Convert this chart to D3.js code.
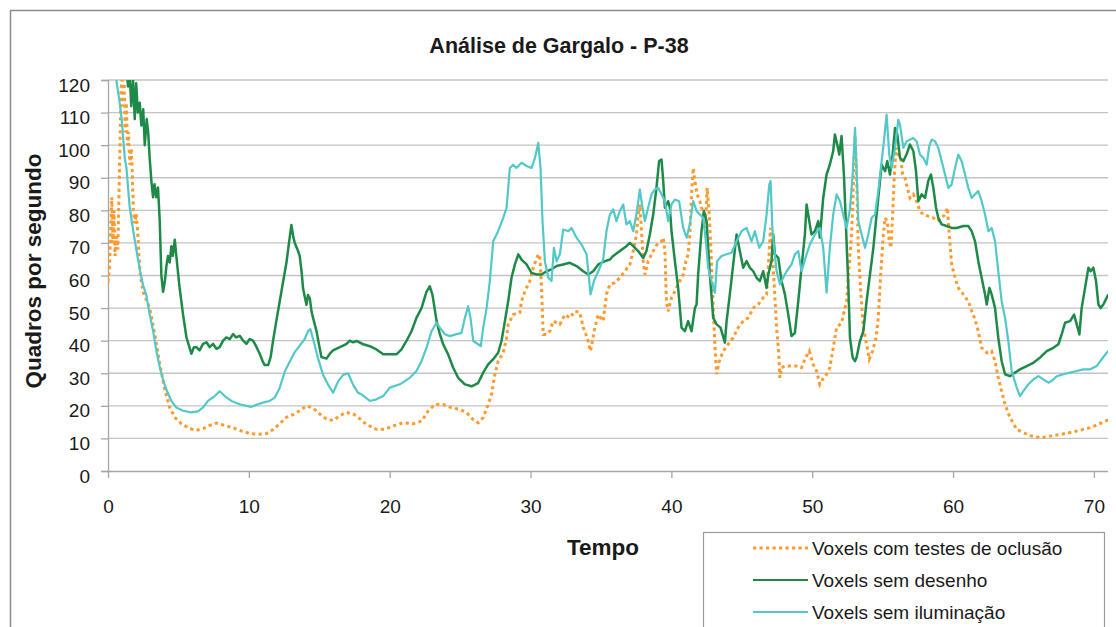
<!DOCTYPE html>
<html><head><meta charset="utf-8">
<script src="https://cdn.jsdelivr.net/npm/d3@7"></script>
<style>
body{margin:0;background:#fff;}
text{font-family:"Liberation Sans",Arial,sans-serif;fill:#1a1a1a;}
</style></head>
<body><svg id="c" width="1116" height="627"></svg>
<script>
const title = "Análise de Gargalo - P-38";
const xLabel = "Tempo";
const yLabel = "Quadros por segundo";
const xTicks = [0,10,20,30,40,50,60,70];
const yTicks = [0,10,20,30,40,50,60,70,80,90,100,110,120];
const seriesNames = ["Voxels com testes de oclusão","Voxels sem desenho","Voxels sem iluminação"];

// [tempo, quadros por segundo]
const occlusion = [[0.0,58],[0.1,62],[0.2,75],[0.27,84],[0.35,70],[0.42,80],[0.5,66],[0.6,72],[0.7,68],[0.78,85],[0.85,100],[0.92,116],[1.0,122],[1.08,112],[1.15,119],[1.22,104],[1.3,113],[1.38,100],[1.45,104],[1.55,94],[1.65,99],[1.72,92],[1.8,80],[1.9,76],[2.0,79],[2.1,74],[2.2,66],[2.3,60],[2.49,55],[2.96,50],[3.32,42],[3.67,33],[4.03,25],[4.38,19.5],[4.74,16.5],[5.21,14.5],[5.8,13],[6.28,12.5],[6.75,13],[7.22,14],[7.7,14.7],[8.29,14],[8.88,13.3],[9.47,12.3],[10.06,11.5],[10.65,11.3],[11.25,11.5],[11.72,12.7],[12.19,14.5],[12.67,16.5],[13.14,17.3],[13.61,18.5],[14.09,20],[14.44,19.5],[14.8,18.5],[15.15,17],[15.51,16],[15.98,15.5],[16.46,17],[16.93,18],[17.4,17.5],[17.64,16.9],[18.35,14.3],[19.06,12.8],[19.66,12.8],[20.25,13.8],[20.96,14.8],[21.67,14.5],[22.26,15.3],[22.73,18.4],[23.21,20.4],[23.8,20.4],[24.39,19.4],[24.98,18.9],[25.46,17.9],[25.93,15.8],[26.28,14.8],[26.64,16.4],[26.99,20.4],[27.23,23.5],[27.47,29.7],[27.7,33.7],[28.06,36.3],[28.3,40.9],[28.41,45],[28.77,48],[29.24,48.6],[29.36,52.1],[29.6,55.2],[29.95,58.3],[30.19,62.4],[30.55,66.5],[30.66,66],[30.78,56.2],[30.9,41.9],[31.14,41.9],[31.37,42.9],[31.61,46],[32.08,45],[32.44,48],[32.79,47],[33.15,49.1],[33.5,48.6],[33.74,44],[34.03,40.9],[34.26,36.8],[34.57,44],[34.81,48],[35.16,46],[35.39,54.2],[35.63,57.3],[35.99,57.8],[36.34,59.3],[36.7,61.3],[37.05,63.4],[37.29,67.5],[37.52,72.6],[37.64,78.7],[37.76,81.8],[37.88,73.6],[38.0,64.4],[38.12,60.3],[38.35,64.4],[38.59,66.5],[38.83,68.5],[39.06,70],[39.3,70.5],[39.42,71.6],[39.54,67.5],[39.65,52.1],[39.77,49],[40.01,53.2],[40.25,55.2],[40.6,58.3],[40.84,60.3],[41.03,64.4],[41.19,66.5],[41.31,72.6],[41.43,84.9],[41.55,93],[41.67,89],[41.83,84.9],[42.02,82.8],[42.14,80.8],[42.26,79.8],[42.4,74.6],[42.54,86.9],[42.69,78.7],[42.8,68.5],[42.97,50],[43.09,38.9],[43.21,29.7],[43.4,33.7],[43.68,36.8],[44.03,38.9],[44.39,40.9],[44.74,44],[45.1,46],[45.45,47],[45.81,50],[46.17,51.1],[46.52,53.2],[46.76,54.2],[46.92,65.4],[47.04,74.6],[47.18,66.5],[47.35,53.2],[47.47,44],[47.63,35.8],[47.7,28.6],[47.82,31.7],[48.06,32.2],[48.53,32.2],[49.01,32.2],[49.24,31.7],[49.48,34.3],[49.79,36.8],[50.07,32.7],[50.31,30.7],[50.54,26.6],[50.73,28.1],[51.02,29.7],[51.25,31.7],[51.49,37.8],[51.73,44],[52.08,45.5],[52.44,52.1],[52.63,63.4],[52.79,72.6],[52.87,80.8],[53.04,102.8],[53.15,91],[53.27,68.5],[53.44,55.2],[53.63,44],[53.86,38.9],[54.05,34.3],[54.29,36.8],[54.53,40.9],[54.69,47],[54.86,60.3],[55.05,72.6],[55.17,77.7],[55.33,76.7],[55.47,70.5],[55.59,68.5],[55.71,78.7],[55.81,89],[55.95,99.2],[56.11,97.1],[56.28,96.1],[56.42,91],[56.59,89.9],[56.75,86.9],[56.94,83.8],[57.18,84.9],[57.41,82.8],[57.65,79.8],[57.89,78.7],[58.24,78.2],[58.6,77.7],[58.88,76.7],[59.19,77.7],[59.43,78.7],[59.59,80.8],[59.73,72.6],[59.9,63.4],[60.14,59.3],[60.37,56.2],[60.73,54.2],[61.08,52.1],[61.32,49.1],[61.56,46.5],[61.79,42.9],[62.03,37.8],[62.39,36.3],[62.74,36.8],[62.98,33.7],[63.21,28.6],[63.45,24.5],[63.69,20.4],[64.04,16.4],[64.52,12.8],[64.99,11.8],[65.58,10.7],[66.29,10.2],[66.88,10.7],[67.59,11.2],[68.31,11.8],[69.02,12.5],[69.73,13.3],[70.32,14.3],[70.79,15.3],[71.15,15.8]];

const noDraw = [[0,135],[0.8,132],[1.3,125],[1.42,118],[1.55,121],[1.65,112],[1.78,120],[1.9,108],[2.0,119],[2.12,110],[2.25,113],[2.37,106],[2.5,111],[2.61,100],[2.75,108],[2.85,104],[2.96,96],[3.08,89],[3.2,84],[3.3,88],[3.43,84],[3.55,87],[3.67,77],[3.79,60],[3.91,55],[4.03,58],[4.15,63],[4.26,66],[4.38,64],[4.5,69],[4.6,66],[4.74,71],[4.85,66],[5.09,56],[5.33,48],[5.57,41],[5.92,36],[6.1,38],[6.28,38],[6.5,37],[6.75,39],[6.99,39.5],[7.22,38],[7.46,39],[7.7,37.5],[7.93,38],[8.17,40],[8.41,41],[8.65,40.5],[8.88,42],[9.1,41],[9.35,41.5],[9.6,40],[9.83,39],[10.06,40.5],[10.3,40],[10.55,38],[10.77,36],[11.0,33.5],[11.13,32.5],[11.37,32.5],[11.55,35],[11.72,40],[11.95,46],[12.19,52],[12.43,58],[12.67,64],[12.85,70],[13.02,75.5],[13.15,72],[13.26,70],[13.45,68],[13.61,66],[13.75,61],[13.85,56],[14.09,51],[14.2,54],[14.33,53],[14.45,49],[14.56,47],[14.8,43],[15.15,35],[15.51,34.5],[15.75,36],[15.98,37],[16.2,37.5],[16.46,38],[16.7,38.5],[16.93,39],[17.17,40],[17.4,39.5],[17.64,39.9],[18.12,38.9],[18.59,38.3],[19.06,37.3],[19.54,35.8],[20.01,35.8],[20.48,35.8],[20.84,37.3],[21.19,39.9],[21.55,42.9],[21.9,47],[22.26,50],[22.61,55],[22.85,56.7],[23.04,54],[23.33,46],[23.56,42],[23.8,38.9],[24.15,35.8],[24.51,31.7],[24.86,28.6],[25.34,26.6],[25.81,26],[26.28,27],[26.64,30.2],[26.99,32.7],[27.35,34.3],[27.7,36.3],[27.94,39.9],[28.18,46],[28.41,52],[28.65,59.3],[28.89,63.4],[29.13,66.5],[29.36,64.9],[29.72,63.4],[30.07,60.8],[30.43,60.3],[30.78,60.3],[31.14,61.3],[31.49,61.9],[31.85,62.9],[32.32,63.4],[32.79,63.9],[33.27,62.9],[33.74,61.3],[34.1,60.3],[34.45,61.3],[34.81,63.4],[35.28,64.4],[35.64,64.9],[35.87,66],[36.34,67.5],[36.81,69],[37.05,70],[37.29,69],[37.64,67.5],[38.0,65.4],[38.23,67.5],[38.47,72.6],[38.71,78.7],[38.94,86.9],[39.13,95.1],[39.3,95.6],[39.42,89],[39.54,80.8],[39.65,81.8],[39.77,82.8],[39.89,80.8],[40.01,73.6],[40.25,64.4],[40.48,56.2],[40.72,44],[40.96,42.9],[41.19,46],[41.43,42.9],[41.67,50],[41.79,51.1],[41.9,60.3],[42.14,73.6],[42.31,79.8],[42.5,76.7],[42.73,60.3],[42.97,47],[43.21,45],[43.49,44],[43.8,39.4],[43.92,46],[44.15,54.2],[44.39,63.4],[44.63,72.6],[44.86,67.5],[45.1,62.4],[45.34,64.4],[45.57,62.4],[45.81,61.3],[46.05,59.3],[46.28,58.3],[46.52,61.3],[46.76,56.2],[46.88,60.3],[47.11,64.4],[47.23,72.6],[47.35,66.5],[47.59,65.4],[47.82,58.3],[48.06,54.2],[48.3,48],[48.53,41.4],[48.77,42.4],[49.01,52.1],[49.24,62.4],[49.48,72.6],[49.6,81.8],[49.79,76.7],[49.95,72.6],[50.19,73.6],[50.43,76.7],[50.54,71.6],[50.78,83.8],[51.02,91],[51.25,94],[51.49,98.2],[51.61,103.3],[51.78,100.1],[51.92,97.1],[52.08,102.8],[52.25,91],[52.39,75.7],[52.56,57.3],[52.68,40.9],[52.87,34.8],[53.03,33.7],[53.15,34.8],[53.39,39.9],[53.63,42.9],[53.86,52.1],[54.1,60.3],[54.34,68.5],[54.57,78.7],[54.81,89],[54.93,94],[55.17,92],[55.33,95.1],[55.52,91],[55.71,97.2],[55.88,105.3],[56.04,103.3],[56.23,96.1],[56.47,95.1],[56.7,97.2],[56.94,100.2],[57.18,98.2],[57.37,92],[57.53,82.8],[57.77,84.9],[58.01,83.8],[58.24,89],[58.43,91],[58.6,86.9],[58.79,80.8],[58.95,77.7],[59.19,75.7],[59.55,75.2],[59.9,74.6],[60.26,74.6],[60.73,75.2],[61.08,75.2],[61.32,73.6],[61.56,70.5],[61.79,64.4],[62.03,59.3],[62.27,54.2],[62.39,51.1],[62.58,56.2],[62.74,54.2],[62.98,50],[63.21,40.9],[63.45,33.7],[63.69,29.7],[64.04,29.1],[64.4,30.2],[64.75,31.2],[65.23,32.2],[65.7,33.2],[66.17,34.8],[66.65,36.8],[67.12,37.8],[67.48,38.9],[67.71,41.9],[67.95,45.5],[68.31,46],[68.59,48],[68.78,45],[68.97,41.9],[69.13,50],[69.37,56.2],[69.61,62.4],[69.77,61.3],[69.96,62.4],[70.15,58.3],[70.32,51.1],[70.48,50],[70.67,51.1],[70.91,53.2],[71.03,54.2]];

const noLight = [[0,130],[0.5,125],[0.59,120],[0.83,113],[0.97,108],[1.19,96],[1.31,93],[1.54,81],[1.78,74],[2.01,68],[2.25,62],[2.49,57],[2.72,54],[2.96,48],[3.2,43],[3.43,37],[3.67,32],[3.91,28],[4.14,25],[4.5,21.5],[4.85,19.5],[5.33,18.5],[5.92,18],[6.39,18.3],[6.75,19.5],[7.1,21.5],[7.58,23],[7.93,24.5],[8.29,23],[8.76,21.5],[9.35,20.5],[9.83,20],[10.18,19.7],[10.54,20.3],[11.01,21],[11.48,21.5],[11.84,22.5],[12.19,25.5],[12.55,30.5],[12.9,33.5],[13.26,36.5],[13.61,38.5],[13.97,40.5],[14.21,43],[14.37,43.5],[14.56,40.5],[14.92,34.5],[15.27,29.5],[15.63,26.5],[15.98,24],[16.34,27.5],[16.69,29.5],[17.05,30],[17.4,26.5],[17.76,24],[18.0,23.5],[18.59,21.5],[19.06,22],[19.54,23],[20.01,25.6],[20.72,26.6],[21.43,28.6],[21.9,30.7],[22.26,33.7],[22.61,37.8],[22.97,42.9],[23.33,45.5],[23.56,44],[23.92,42],[24.27,41.4],[24.75,42],[25.1,42.4],[25.34,47],[25.57,50.6],[25.74,47],[25.93,39.9],[26.28,38.9],[26.47,38.3],[26.64,44],[26.88,50],[27.11,58.3],[27.35,70.5],[27.7,73.6],[28.06,77.7],[28.3,80.8],[28.53,93],[28.77,94],[29.0,93],[29.36,94.6],[29.72,93.6],[30.07,93],[30.31,96],[30.55,100.7],[30.71,93],[30.85,76.7],[31.02,64.4],[31.26,59.3],[31.49,58.3],[31.66,68.5],[31.85,64.4],[32.08,66.5],[32.32,74.1],[32.68,73.6],[32.91,74.6],[33.27,71.6],[33.62,69.5],[33.98,66.5],[34.26,54.2],[34.5,58.3],[34.81,61.3],[35.16,64.9],[35.39,73.6],[35.63,78.7],[35.87,80.3],[36.1,76.7],[36.34,79.8],[36.58,81.8],[36.81,75.7],[37.05,76.7],[37.29,73.6],[37.52,78.7],[37.76,86.4],[37.95,80.8],[38.12,76.7],[38.35,80.8],[38.59,84.9],[38.83,86.4],[39.06,86.9],[39.3,84.9],[39.54,82.8],[39.77,76.7],[40.01,81.8],[40.25,83.3],[40.55,82.8],[40.84,74.6],[41.08,71.6],[41.31,75.7],[41.55,82.8],[41.79,79.8],[42.02,78.7],[42.26,77.7],[42.45,70.5],[42.61,62.4],[42.85,58.3],[43.09,54.7],[43.25,64.4],[43.56,66],[43.92,66.5],[44.27,67],[44.63,70.5],[44.98,73.6],[45.34,74.6],[45.69,70.5],[45.93,73.6],[46.24,68.5],[46.52,70.5],[46.76,78.7],[46.95,87.9],[47.04,89],[47.18,73.6],[47.47,61.3],[47.71,57.3],[47.94,59.3],[48.18,61.3],[48.53,63.4],[48.77,66.5],[49.01,67.5],[49.24,61.3],[49.6,66.5],[49.83,69.5],[50.19,72.6],[50.54,74.6],[50.78,68.5],[51.02,54.7],[51.25,68.5],[51.49,78.7],[51.73,84.9],[51.97,82.8],[52.2,78.7],[52.44,74.6],[52.68,80.3],[52.87,91],[53.04,105.3],[53.15,93],[53.27,76.7],[53.51,72.6],[53.75,68.5],[53.98,72.6],[54.22,77.7],[54.46,78.7],[54.69,85.9],[54.93,95.1],[55.09,101.2],[55.28,109.4],[55.47,97.1],[55.64,93],[55.88,99.2],[56.11,107.8],[56.23,106.3],[56.47,99.2],[56.7,101.2],[56.94,101.7],[57.18,102.2],[57.41,101.2],[57.65,97.1],[57.89,96.1],[58.13,94],[58.31,99.7],[58.48,101.7],[58.72,101.2],[58.95,99.2],[59.19,95.1],[59.43,91],[59.66,86.9],[59.9,87.9],[60.14,93],[60.37,97.1],[60.61,95.1],[60.85,91],[61.08,86.9],[61.32,83.8],[61.56,84.9],[61.79,85.9],[62.03,82.8],[62.27,78.7],[62.51,73.6],[62.74,74.6],[62.98,70.5],[63.21,61.3],[63.45,52.1],[63.69,47],[63.92,39.9],[64.16,30.7],[64.52,25.6],[64.75,23],[64.99,24.5],[65.35,26.6],[65.7,28.1],[66.06,29.1],[66.41,28.1],[66.77,27.1],[67.0,27.6],[67.36,29.1],[67.83,29.7],[68.31,30.2],[68.78,30.7],[69.25,31.2],[69.73,31.2],[70.2,32.2],[70.55,34.3],[70.91,36.3],[71.15,37.3]];

const colors = ["#FF9A2E","#1E8A48","#52C8C8"];

const svg = d3.select("#c");
const x = d3.scaleLinear().domain([0,71]).range([108,1108]);
const y = d3.scaleLinear().domain([0,120]).range([471,80]);

// outer chart border
svg.append("rect").attr("x",10.5).attr("y",10.5).attr("width",1200).attr("height",800)
  .attr("fill","none").attr("stroke","#8c8c8c").attr("stroke-width",1.5);

// grid
svg.append("g").selectAll("line").data(yTicks.filter(d=>d>0)).join("line")
  .attr("x1",x(0)).attr("x2",x(71)).attr("y1",d=>y(d)).attr("y2",d=>y(d))
  .attr("stroke","#c4c4c4").attr("stroke-width",1.3);

// axes
const yAxis = svg.append("g").attr("transform",`translate(${x(0)},0)`)
  .call(d3.axisLeft(y).tickValues(yTicks).tickSize(7).tickPadding(11).tickFormat(d3.format("d")));
const xAxis = svg.append("g").attr("transform",`translate(0,${y(0)})`)
  .call(d3.axisBottom(x).tickValues(xTicks).tickSize(7).tickPadding(22).tickFormat(d3.format("d")));
[yAxis,xAxis].forEach(g=>{
  g.selectAll("path,line").attr("stroke","#a6a6a6").attr("stroke-width",1.3);
  g.selectAll("text").style("font-size","19px").style("font-family","'Liberation Sans',Arial,sans-serif").attr("fill","#1a1a1a");
});
yAxis.selectAll("text").attr("dy","0.58em");
xAxis.selectAll("path.domain").attr("d",`M${x(0)},0.5H${x(71)}`);

// clip
svg.append("clipPath").attr("id","plot").append("rect")
  .attr("x",x(0)).attr("y",y(120)).attr("width",x(71)-x(0)).attr("height",y(0)-y(120));

const line = d3.line().x(d=>x(d[0])).y(d=>y(d[1]));
const g = svg.append("g").attr("clip-path","url(#plot)");
g.append("path").datum(occlusion).attr("d",line).attr("fill","none")
  .attr("stroke",colors[0]).attr("stroke-width",3).attr("stroke-dasharray","3.2,3.3");
g.append("path").datum(noDraw).attr("d",line).attr("fill","none")
  .attr("stroke",colors[1]).attr("stroke-width",2.5).attr("stroke-linejoin","round");
g.append("path").datum(noLight).attr("d",line).attr("fill","none")
  .attr("stroke",colors[2]).attr("stroke-width",2.2).attr("stroke-linejoin","round");

// titles
svg.append("text").attr("x",559).attr("y",53).attr("text-anchor","middle")
  .style("font-size","21.5px").style("font-weight","bold").text(title);
svg.append("text").attr("x",603).attr("y",555).attr("text-anchor","middle")
  .style("font-size","22.5px").style("font-weight","bold").text(xLabel);
svg.append("text").attr("transform","translate(41,271) rotate(-90)").attr("text-anchor","middle")
  .style("font-size","22.5px").style("font-weight","bold").text(yLabel);

// legend
const lg = svg.append("g");
lg.append("rect").attr("x",703.5).attr("y",532.5).attr("width",401).attr("height",120)
  .attr("fill","#fff").attr("stroke","#9a9a9a").attr("stroke-width",1.2);
const ly = [548,580,612];
seriesNames.forEach((n,i)=>{
  lg.append("line").attr("x1",753).attr("x2",808).attr("y1",ly[i]).attr("y2",ly[i])
    .attr("stroke",colors[i]).attr("stroke-width",i===0?3:2.2)
    .attr("stroke-dasharray",i===0?"3.2,3.3":null);
  lg.append("text").attr("x",812).attr("y",ly[i]+7).style("font-size","19px").text(n);
});
</script></body></html>
